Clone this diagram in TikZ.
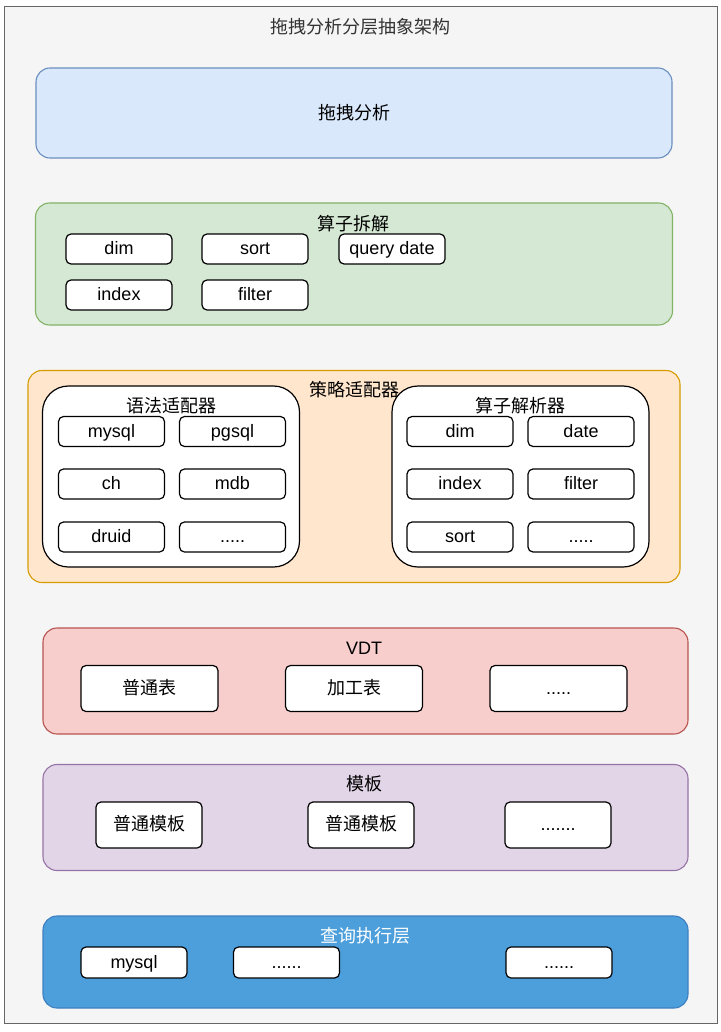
\documentclass[tikz,border=0pt]{standalone}
\usepackage{fontspec}
\setmainfont{Liberation Sans}
\newfontfamily\cjk{Noto Sans CJK SC}
\definecolor{frameFill}{HTML}{F5F5F5}
\definecolor{frameDraw}{HTML}{666666}
\definecolor{bluF}{HTML}{DAE8FC}\definecolor{bluD}{HTML}{6C8EBF}
\definecolor{grnF}{HTML}{D5E8D4}\definecolor{grnD}{HTML}{82B366}
\definecolor{orgF}{HTML}{FFE6CC}\definecolor{orgD}{HTML}{D79B00}
\definecolor{redF}{HTML}{F8CECC}\definecolor{redD}{HTML}{B85450}
\definecolor{purF}{HTML}{E1D5E7}\definecolor{purD}{HTML}{9673A6}
\definecolor{qF}{HTML}{4D9FDC}\definecolor{qD}{HTML}{3D7FC0}
\newcommand{\fsz}{\fontsize{18}{22}\selectfont}
\begin{document}
\begin{tikzpicture}[x=1pt,y=-1pt,
  layer/.style={draw, rounded corners=14pt, line width=1.1pt, inner sep=0pt},
  group/.style={draw=black, fill=white, rounded corners=26pt, line width=1.2pt, inner sep=0pt, minimum width=257pt, minimum height=181pt},
  item/.style={draw=black, fill=white, rounded corners=5pt, line width=1.2pt, inner sep=0pt, minimum width=106pt, minimum height=30pt, font=\fsz, text height=14pt, text depth=3pt},
  bigitem/.style={item, minimum height=46pt},
  lbl/.style={inner sep=0pt, font=\fsz},
  cn/.style={font=\fsz\cjk}
]
\useasboundingbox (0,0) rectangle (720,1032);
\fill[white] (0,0) rectangle (720,1032);
\node[draw=frameDraw, fill=frameFill, line width=1pt, inner sep=0pt, minimum width=713pt, minimum height=1016pt] (frame) at (360.5,515) {};
\node[lbl, cn, text=black!80] (title) at (360,27) {拖拽分析分层抽象架构};

% layer 1
\node[layer, draw=bluD, fill=bluF, minimum width=636pt, minimum height=90pt] (l1) at (354,113) {};
\node[lbl, cn] (l1t) at (l1.center) {拖拽分析};

% layer 2
\node[layer, draw=grnD, fill=grnF, minimum width=637pt, minimum height=122pt] (l2) at (354,264) {};
\node[lbl, cn] (l2t) at (353,224) {算子拆解};
\node[item] (a1) at (119,249) {dim};
\node[item] (a2) at (255,249) {sort};
\node[item] (a3) at (392,249) {query date};
\node[item] (a4) at (119,295) {index};
\node[item] (a5) at (255,295) {filter};

% layer 3
\node[layer, draw=orgD, fill=orgF, minimum width=652pt, minimum height=212pt] (l3) at (354,476.5) {};
\node[lbl, cn] (l3t) at (354,390) {策略适配器};
\node[group] (g1) at (171,476.5) {};
\node[lbl, cn] (g1t) at (171,406) {语法适配器};
\node[item] (b1) at (111.5,431.5) {mysql};
\node[item] (b2) at (232.5,431.5) {pgsql};
\node[item] (b3) at (111.5,484) {ch};
\node[item] (b4) at (232.5,484) {mdb};
\node[item] (b5) at (111.5,537) {druid};
\node[item] (b6) at (232.5,537) {.....};
\node[group] (g2) at (520.5,476.5) {};
\node[lbl, cn] (g2t) at (520.5,406) {算子解析器};
\node[item] (c1) at (460,431.5) {dim};
\node[item] (c2) at (581,431.5) {date};
\node[item] (c3) at (460,484) {index};
\node[item] (c4) at (581,484) {filter};
\node[item] (c5) at (460,537) {sort};
\node[item] (c6) at (581,537) {.....};

% layer 4
\node[layer, draw=redD, fill=redF, minimum width=645pt, minimum height=106pt] (l4) at (365.5,681) {};
\node[lbl] (l4t) at (364,648) {VDT};
\node[bigitem, minimum width=137pt] (d1) at (149.5,688.5) {\cjk 普通表};
\node[bigitem, minimum width=137pt] (d2) at (354,688.5) {\cjk 加工表};
\node[bigitem, minimum width=137pt] (d3) at (558.5,688.5) {.....};

% layer 5
\node[layer, draw=purD, fill=purF, minimum width=645pt, minimum height=106pt] (l5) at (365.5,817.5) {};
\node[lbl, cn] (l5t) at (364,784) {模板};
\node[bigitem] (e1) at (149,825) {\cjk 普通模板};
\node[bigitem] (e2) at (361,825) {\cjk 普通模板};
\node[bigitem] (e3) at (558,825) {.......};

% layer 6
\node[layer, draw=qD, fill=qF, minimum width=645pt, minimum height=92pt] (l6) at (365.5,962) {};
\node[lbl, cn, text=white] (l6t) at (365,936) {查询执行层};
\node[item, minimum height=31pt] (f1) at (134,962.5) {mysql};
\node[item, minimum height=31pt] (f2) at (286.5,962.5) {......};
\node[item, minimum height=31pt] (f3) at (559,962.5) {......};
\end{tikzpicture}
\end{document}
